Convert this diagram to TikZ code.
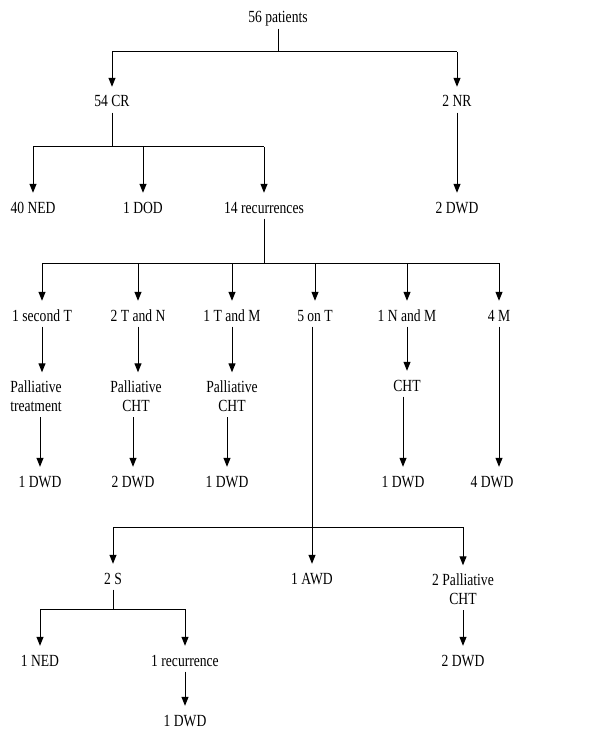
\documentclass[tikz,border=0pt]{standalone}
\usepackage{fontspec}
\setmainfont{Liberation Serif}[FakeStretch=0.8]
\usetikzlibrary{arrows.meta}
\tikzset{
  box/.style={
    inner xsep=0pt, inner ysep=2pt, align=center,
    font=\fontsize{17}{19}\selectfont, text height=11.5pt, text depth=3.5pt
  },
  box2/.style={box, text height=30.5pt},
  link/.style={draw, line width=1pt},
  arr/.style={link, -{Triangle[width=7pt,length=9pt]}, shorten >=6.5pt},
}

\begin{document}
\begin{tikzpicture}[x=1pt, y=-1pt]
  \useasboundingbox (0,0) rectangle (600,738);

  % top levels
  \node[box] (pat) at (278,19) {56 patients};
  \node[box] (cr)  at (112,103) {54 CR};
  \node[box] (nr)  at (457,103) {2 NR};
  \node[box] (ned) at (33,209) {40 NED};
  \node[box] (dod) at (143,209) {1 DOD};
  \node[box] (rec) at (264,209) {14 recurrences};
  \node[box] (nrd) at (457,209) {2 DWD};

  % recurrences
  \node[box] (sec) at (42,317) {1 second T};
  \node[box] (tn)  at (138,317) {2 T and N};
  \node[box] (tm)  at (232,317) {1 T and M};
  \node[box] (onT) at (315,317) {5 on T};
  \node[box] (nm)  at (407,317) {1 N and M};
  \node[box] (m4)  at (499,317) {4 M};

  \node[box2] (pal1) at (36,398) {Palliative\\treatment};
  \node[box2] (pal2) at (136,398) {Palliative\\CHT};
  \node[box2] (pal3) at (232,398) {Palliative\\CHT};
  \node[box]  (cht)  at (407,387) {CHT};

  \node[box] (d1) at (40,483) {1 DWD};
  \node[box] (d2) at (133,483) {2 DWD};
  \node[box] (d3) at (227,483) {1 DWD};
  \node[box] (d4) at (403,483) {1 DWD};
  \node[box] (d5) at (492,483) {4 DWD};

  % local treatment
  \node[box]  (s2)   at (113,580) {2 S};
  \node[box]  (awd)  at (312,580) {1 AWD};
  \node[box2] (pal4) at (463,591) {2 Palliative\\CHT};
  \node[box]  (ned2) at (40,662) {1 NED};
  \node[box]  (rec2) at (185,662) {1 recurrence};
  \node[box]  (d6)   at (185,722) {1 DWD};
  \node[box]  (d7)   at (463,662) {2 DWD};

  % bus lines
  \coordinate (b1) at (0,52);
  \coordinate (b2) at (0,147);
  \coordinate (b3) at (0,263);
  \coordinate (b4) at (0,527);
  \coordinate (b5) at (0,609);

  \draw[link] (pat.south) -- (pat |- b1) (cr |- b1) -- (nr |- b1);
  \foreach \n in {cr,nr} \draw[arr] (\n |- b1) -- (\n.north);

  \draw[link] (cr.south) -- (cr |- b2) (ned |- b2) -- (rec |- b2);
  \foreach \n in {ned,dod,rec} \draw[arr] (\n |- b2) -- (\n.north);
  \draw[arr] (nr.south) -- (nrd.north);

  \draw[link] (rec.south) -- (rec |- b3) (sec |- b3) -- (m4 |- b3);
  \foreach \n in {sec,tn,tm,onT,nm,m4} \draw[arr] (\n |- b3) -- (\n.north);

  \draw[arr] (sec.south) -- (sec |- pal1.north);
  \draw[arr] (tn.south) -- (tn |- pal2.north);
  \draw[arr] (tm.south) -- (tm |- pal3.north);
  \draw[arr] (nm.south) -- (cht.north);
  \draw[arr] (pal1.south -| d1) -- (d1.north);
  \draw[arr] (pal2.south -| d2) -- (d2.north);
  \draw[arr] (pal3.south -| d3) -- (d3.north);
  \draw[arr] (cht.south -| d4) -- (d4.north);
  \draw[arr] (m4.south) -- (m4 |- d5.north);

  \draw[link] (onT.south -| awd) -- (awd |- b4) (s2 |- b4) -- (pal4 |- b4);
  \foreach \n in {s2,awd,pal4} \draw[arr] (\n |- b4) -- (\n.north);

  \draw[link] (s2.south) -- (s2 |- b5) (ned2 |- b5) -- (rec2 |- b5);
  \foreach \n in {ned2,rec2} \draw[arr] (\n |- b5) -- (\n.north);
  \draw[arr] (rec2.south) -- (d6.north);
  \draw[arr] (pal4.south) -- (d7.north);
\end{tikzpicture}
\end{document}
